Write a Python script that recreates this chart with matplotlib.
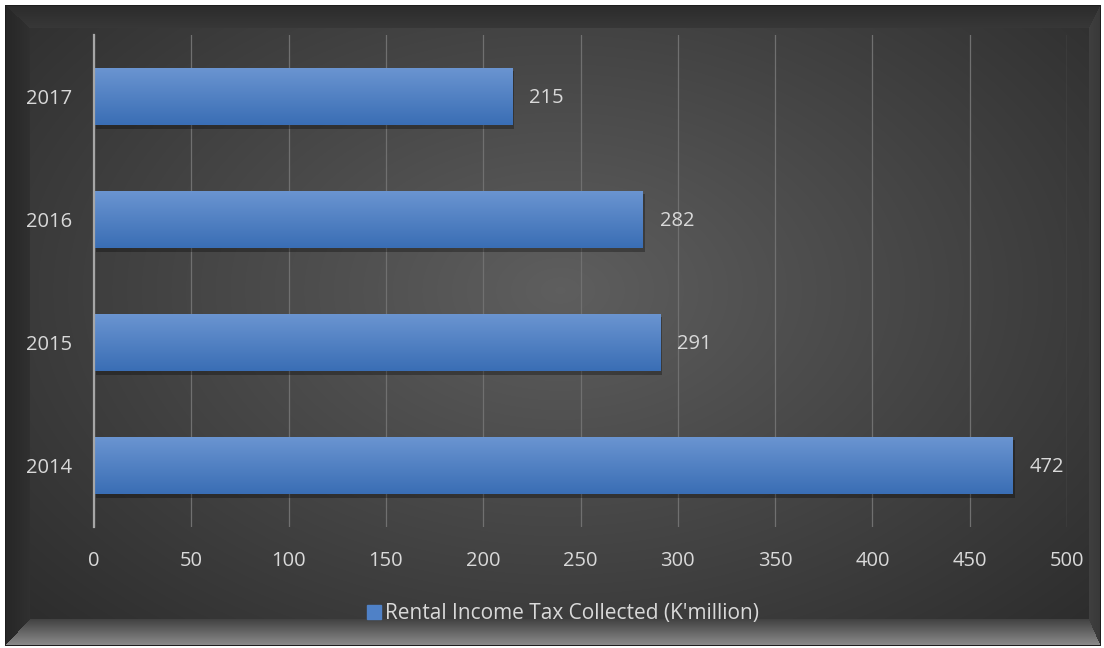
import numpy as np
import matplotlib
matplotlib.use("Agg")
import matplotlib.pyplot as plt
from matplotlib import patheffects as pe
from matplotlib.lines import Line2D

# ---- data ----
years = ["2014", "2015", "2016", "2017"]
values = [472, 291, 282, 215]
xticks = [0, 50, 100, 150, 200, 250, 300, 350, 400, 450, 500]
series_name = "Rental Income Tax Collected (K'million)"

FONT = "Open Sans"
TXT = "#d9d9d9"
FS = 14.5

W, H = 1104, 648
fig = plt.figure(figsize=(W / 100, H / 100), dpi=100)

# ---- background: radial gradient + bevel frame ----
yy, xx = np.mgrid[0:H, 0:W].astype(float)
cx, cy = 560.0, 290.0
r = np.sqrt(((xx - cx) / 640.0) ** 2 + ((yy - cy) / 420.0) ** 2)
v = 0.37 - 0.17 * np.clip(r, 0, 1.15)
img = np.dstack([v, v, v])

oL, oT, oR, oB = 5, 5, 1100, 645
iL, iT, iR, iB = 30, 28, 1088, 618
inside_outer = (xx >= oL) & (xx <= oR) & (yy >= oT) & (yy <= oB)
inside_inner = (xx >= iL) & (xx <= iR) & (yy >= iT) & (yy <= iB)
frame = inside_outer & ~inside_inner
dl = (xx - oL) / (iL - oL)
dt = (yy - oT) / (iT - oT)
dr = (oR - xx) / (oR - iR)
db = (oB - yy) / (oB - iB)
stack = np.stack([dl, dt, dr, db])
side = np.argmin(stack, axis=0)
t = np.clip(np.min(stack, axis=0), 0, 1)
fv = np.zeros_like(v)
fv = np.where(side == 0, 0.15 + 0.04 * t, fv)
fv = np.where(side == 1, 0.17 + 0.05 * t, fv)
fv = np.where(side == 2, 0.22 + 0.03 * t, fv)
fv = np.where(side == 3, 0.55 - 0.30 * t, fv)
for k in range(3):
    img[..., k] = np.where(frame, fv, img[..., k])
edge = inside_outer & ~((xx >= oL + 1) & (xx <= oR - 1) & (yy >= oT + 1) & (yy <= oB - 1))
for k in range(3):
    img[..., k] = np.where(edge, 0.12, img[..., k])
for k in range(3):
    img[..., k] = np.where(inside_outer, img[..., k], 1.0)
fig.figimage(img, xo=0, yo=0, origin="upper", zorder=-10)

# ---- axes ----
ax_l, ax_r, ax_t, ax_b = 94, 1067, 35, 527
ax = fig.add_axes([ax_l / W, 1 - ax_b / H, (ax_r - ax_l) / W, (ax_b - ax_t) / H])
ax.set_zorder(1)
ax.patch.set_visible(False)
ypos = np.arange(len(years))

for s in ["top", "right", "bottom"]:
    ax.spines[s].set_visible(False)
ax.spines["left"].set_color("#a6a6a6")
ax.spines["left"].set_linewidth(1.6)
ax.spines["left"].set_zorder(5)

ax.set_xticks(xticks)
ax.set_xticklabels([str(x) for x in xticks])
ax.set_yticks(ypos)
ax.set_yticklabels(years)
ax.tick_params(axis="both", length=0, colors=TXT, labelsize=FS)
ax.tick_params(axis="x", pad=17)
ax.tick_params(axis="y", pad=16)
for lab in ax.get_xticklabels() + ax.get_yticklabels():
    lab.set_fontfamily(FONT)
ax.grid(axis="x", color="#707070", linewidth=0.9)
ax.set_axisbelow(True)

bh = 0.47
bars = ax.barh(ypos, values, height=bh, color="#4f81c7", zorder=2,
               path_effects=[pe.SimplePatchShadow(offset=(1.5, -2.5), shadow_rgbFace="black", alpha=0.3), pe.Normal()])
grad = np.linspace(0, 1, 64).reshape(-1, 1)
top_c = np.array([0x6b, 0x95, 0xd1]) / 255
bot_c = np.array([0x3a, 0x6e, 0xb5]) / 255
gimg = top_c[None, None, :] * (1 - grad[..., None]) + bot_c[None, None, :] * grad[..., None]
for b in bars:
    x0, y0 = b.get_x(), b.get_y()
    w, h = b.get_width(), b.get_height()
    im = ax.imshow(gimg, extent=[x0, x0 + w, y0, y0 + h], origin="upper",
                   aspect="auto", zorder=3, interpolation="bilinear")
    im.set_clip_path(b)

for yp, val in zip(ypos, values):
    ax.annotate(str(val), xy=(val, yp), xytext=(17, -2), textcoords="offset pixels",
                va="center", ha="left", color=TXT, fontsize=FS, fontfamily=FONT)

ax.set_xlim(0, 500)
ax.set_ylim(-0.5, len(years) - 0.5)

handle = Line2D([], [], marker="s", linestyle="none", markersize=10,
                markerfacecolor="#4f81c7", markeredgecolor="#4f81c7")
leg = fig.legend([handle], [series_name], loc="center", bbox_to_anchor=(563 / W, 1 - 614 / H),
                 frameon=False, handletextpad=0.15, handlelength=0.7,
                 prop={"family": FONT, "size": 15})
for t_ in leg.get_texts():
    t_.set_color(TXT)

fig.savefig("out.png", dpi=100)
